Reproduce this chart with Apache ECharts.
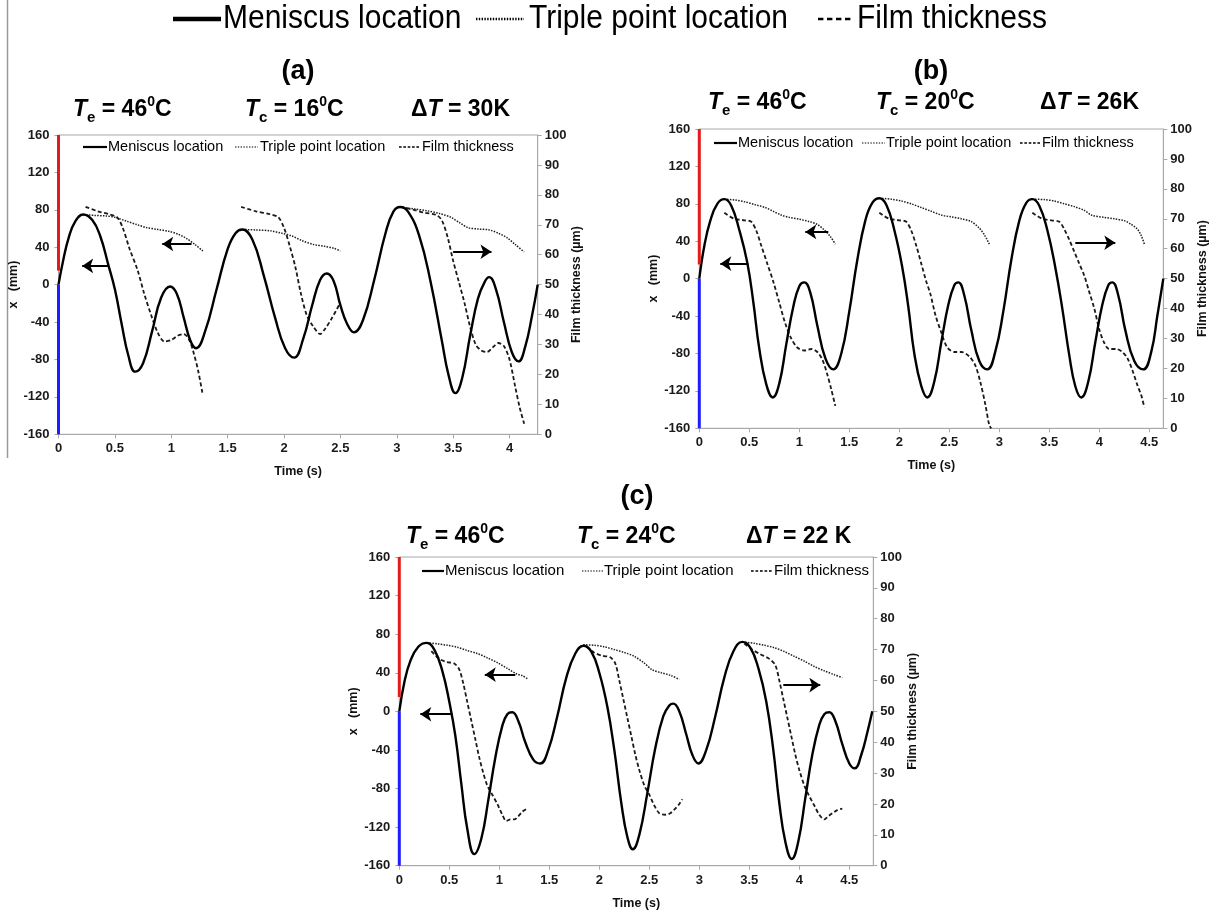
<!DOCTYPE html>
<html><head><meta charset="utf-8">
<script src="https://cdn.jsdelivr.net/npm/echarts@6/dist/echarts.min.js"></script>
<style>html,body{margin:0;padding:0;background:#fff}#c{width:1227px;height:913px}</style>
</head><body><div id="c"></div>
<script>
const FONT = '"Liberation Sans", Arial, sans-serif';

// ---------- DATA ----------
const panelLabels = ['(a)', '(b)', '(c)'];
const Te = ['46', '46', '46'];
const Tc = ['16', '20', '24'];
const dT = ['30K', '26K', '22 K'];
const timeMax = [4.25, 4.64, 4.74];
const xTicks = [0, 0.5, 1, 1.5, 2, 2.5, 3, 3.5, 4, 4.5];
const leftTicks = [-160, -120, -80, -40, 0, 40, 80, 120, 160];
const rightTicks = [0, 10, 20, 30, 40, 50, 60, 70, 80, 90, 100];
const redBar = [160, 15];
const blueBar = [0, -160];
const legendNames = ['Meniscus location', 'Triple point location', 'Film thickness'];

// Panel (a) — meniscus [time s, x mm]
const menA = [[0,0],[0.04,25],[0.09,50],[0.15,68],[0.22,75],[0.30,69],[0.37,52],[0.44,22],[0.50,-5],[0.56,-42],[0.62,-76],[0.68,-93],[0.75,-84],[0.83,-50],[0.91,-14],[0.99,-2],[1.05,-10],[1.11,-35],[1.17,-60],[1.22,-68],[1.30,-50],[1.40,-6],[1.50,38],[1.57,55],[1.63,59],[1.72,48],[1.82,10],[1.92,-35],[2.01,-68],[2.09,-78],[2.17,-58],[2.25,-22],[2.32,5],[2.38,12],[2.44,4],[2.50,-22],[2.56,-42],[2.62,-51],[2.70,-38],[2.80,5],[2.90,55],[2.97,78],[3.03,83],[3.10,78],[3.20,52],[3.30,3],[3.40,-60],[3.46,-97],[3.52,-116],[3.58,-100],[3.65,-55],[3.72,-15],[3.78,3],[3.82,8],[3.88,-5],[3.95,-40],[4.02,-72],[4.08,-82],[4.14,-66],[4.20,-33],[4.25,0]];
// triple point [time, mm]
const triA1 = [[0.22,75],[0.32,74],[0.42,73.5],[0.50,72],[0.60,68],[0.70,64],[0.78,61],[0.88,59],[0.98,57],[1.06,54],[1.14,49],[1.21,43],[1.28,36]];
const triA2 = [[1.63,59],[1.75,58.5],[1.88,57.5],[1.98,55],[2.07,52],[2.16,47],[2.26,43],[2.36,41],[2.44,39],[2.50,36]];
const triA3 = [[3.03,83],[3.15,81],[3.27,79],[3.38,76],[3.48,72],[3.56,66],[3.63,61],[3.72,59.5],[3.82,58.5],[3.90,55],[3.98,50],[4.05,43],[4.13,35]];
// film thickness [time, µm]
const filmA1 = [[0.24,76],[0.35,74.5],[0.45,73.5],[0.52,72.5],[0.57,69],[0.63,62],[0.70,55],[0.76,47],[0.82,40],[0.88,34],[0.94,31],[1.00,31.5],[1.06,33],[1.11,33.5],[1.16,31.5],[1.20,27],[1.24,21],[1.28,13]];
const filmA2 = [[1.62,76],[1.75,74.5],[1.88,73.5],[1.95,72.5],[2.00,69],[2.05,63],[2.10,56],[2.15,47],[2.20,40],[2.26,36],[2.32,33.5],[2.36,35],[2.42,38.5],[2.50,44]];
const filmA3 = [[3.03,76],[3.15,75],[3.25,74],[3.35,73.3],[3.40,71.5],[3.45,66],[3.50,58],[3.55,51],[3.60,44],[3.65,36],[3.70,30],[3.75,28],[3.80,27.5],[3.85,29],[3.90,30.5],[3.95,29.5],[4.00,25],[4.05,16],[4.09,9],[4.13,3.5]];

// Panel (b)
const menB = [[0,0],[0.05,35],[0.11,62],[0.18,80],[0.25,85],[0.32,78],[0.40,52],[0.48,17],[0.54,-25],[0.60,-75],[0.67,-113],[0.735,-127],[0.80,-112],[0.87,-70],[0.94,-30],[1.00,-8],[1.05,-4],[1.11,-15],[1.18,-50],[1.26,-85],[1.34,-97],[1.42,-80],[1.50,-35],[1.58,20],[1.66,62],[1.73,81],[1.80,86],[1.87,79],[1.95,52],[2.03,12],[2.09,-30],[2.15,-80],[2.22,-115],[2.28,-127],[2.35,-110],[2.42,-68],[2.49,-28],[2.55,-7],[2.59,-4],[2.65,-18],[2.72,-55],[2.80,-88],[2.88,-97],[2.96,-78],[3.04,-35],[3.12,20],[3.20,62],[3.27,81],[3.33,85],[3.40,78],[3.48,52],[3.56,12],[3.63,-32],[3.70,-82],[3.76,-115],[3.82,-127],[3.89,-110],[3.96,-68],[4.03,-28],[4.09,-7],[4.13,-4],[4.19,-18],[4.26,-55],[4.35,-88],[4.44,-97],[4.52,-78],[4.58,-40],[4.64,0]];
const triB1 = [[0.25,85],[0.36,84],[0.46,82],[0.56,79],[0.66,76],[0.74,72],[0.82,68],[0.90,65.5],[1.00,63.5],[1.10,61],[1.18,58],[1.25,52],[1.31,45],[1.36,37]];
const triB2 = [[1.80,86],[1.92,85],[2.02,83],[2.12,80],[2.22,76],[2.32,72],[2.42,68],[2.52,66],[2.62,64],[2.72,61],[2.80,54],[2.85,47],[2.90,37]];
const triB3 = [[3.33,85],[3.45,84.5],[3.55,83],[3.65,80],[3.75,77],[3.85,73],[3.92,68],[4.05,65.5],[4.15,64],[4.25,62],[4.32,58],[4.38,53],[4.42,46],[4.45,37]];
const filmB1 = [[0.25,72],[0.35,70],[0.45,69.5],[0.52,69],[0.57,66],[0.62,61],[0.68,55],[0.74,49],[0.80,42],[0.86,35],[0.92,30],[0.98,27],[1.05,26],[1.12,26.5],[1.18,25.5],[1.23,23],[1.28,18],[1.32,13],[1.36,7.5]];
const filmB2 = [[1.80,72],[1.90,70],[2.00,69.5],[2.07,69],[2.12,66],[2.17,61],[2.22,55],[2.27,49],[2.31,45],[2.36,38],[2.42,32],[2.48,27],[2.55,25.5],[2.62,25.5],[2.70,24],[2.76,21],[2.81,15.5],[2.86,8],[2.90,1],[2.92,0]];
const filmB3 = [[3.33,72],[3.43,70],[3.52,69.5],[3.60,69],[3.65,66.5],[3.70,63],[3.75,59],[3.80,55],[3.85,51],[3.90,45.5],[3.95,40],[4.00,33],[4.05,28.5],[4.10,26.5],[4.17,26.5],[4.23,25.5],[4.28,23.5],[4.33,19.5],[4.38,14.5],[4.42,11],[4.45,7]];

// Panel (c)
const menC = [[0,0],[0.05,30],[0.11,52],[0.19,67],[0.275,71],[0.35,64],[0.43,42],[0.50,10],[0.56,-25],[0.62,-75],[0.68,-122],[0.75,-148],[0.82,-132],[0.89,-92],[0.96,-48],[1.03,-15],[1.08,-3],[1.13,-1],[1.19,-10],[1.26,-32],[1.34,-50],[1.41,-54],[1.49,-40],[1.58,-5],[1.67,35],[1.76,60],[1.84,68],[1.92,62],[2.00,40],[2.08,5],[2.15,-40],[2.22,-95],[2.28,-130],[2.335,-143],[2.40,-128],[2.48,-85],[2.56,-38],[2.64,-5],[2.70,6],[2.74,8],[2.80,0],[2.87,-24],[2.93,-45],[2.99,-54],[3.07,-40],[3.16,-5],[3.25,35],[3.34,62],[3.43,72],[3.51,66],[3.59,45],[3.67,10],[3.74,-40],[3.80,-95],[3.86,-135],[3.925,-153],[3.99,-135],[4.06,-90],[4.13,-45],[4.20,-14],[4.25,-3],[4.30,-1],[4.36,-10],[4.43,-34],[4.50,-54],[4.555,-59],[4.62,-45],[4.68,-22],[4.73,0]];
const triC1 = [[0.275,71],[0.38,70],[0.48,68.5],[0.58,66.5],[0.68,63],[0.78,60],[0.88,55.5],[0.98,50.5],[1.08,44.5],[1.17,39],[1.23,37],[1.28,34]];
const triC2 = [[1.84,69],[1.95,68.5],[2.05,67],[2.15,64],[2.25,61],[2.35,57],[2.45,50],[2.53,43],[2.62,40],[2.72,37],[2.80,33]];
const triC3 = [[3.43,72],[3.55,70.5],[3.65,68.5],[3.75,66],[3.85,62],[3.95,57],[4.05,52],[4.15,46.5],[4.25,42],[4.35,38],[4.43,35]];
const filmC1 = [[0.32,69.5],[0.40,67],[0.47,66],[0.55,65.5],[0.60,63.5],[0.64,59],[0.68,53],[0.72,47],[0.76,41],[0.80,35],[0.84,30],[0.88,26],[0.93,23],[0.98,20],[1.03,16.5],[1.07,14.5],[1.11,15],[1.15,15],[1.19,16],[1.23,17.5],[1.28,18.5]];
const filmC2 = [[1.87,71],[1.95,69],[2.03,68],[2.11,67.5],[2.16,65.5],[2.20,60],[2.24,54],[2.28,48],[2.32,42],[2.36,36],[2.40,31],[2.45,26],[2.50,23],[2.55,19.5],[2.60,17],[2.66,16.5],[2.71,17],[2.76,18.5],[2.80,20],[2.83,21.5]];
const filmC3 = [[3.45,72],[3.53,70],[3.61,68.5],[3.70,67],[3.76,65],[3.80,60],[3.84,54],[3.88,48],[3.92,42],[3.96,36],[4.00,31],[4.05,26],[4.10,22.5],[4.15,19.5],[4.20,16.5],[4.25,15],[4.29,16],[4.33,17],[4.38,18],[4.43,18.5]];

// arrows: [tail, head] in [time, value]; left arrows on mm axis, right arrow on µm axis
const arrowsLeftA = [[[0.44,20],[0.21,20]], [[1.18,43.5],[0.92,43.5]]];
const arrowsRightA = [[[3.50,61],[3.84,61]]];
const arrowsLeftB = [[[0.49,16],[0.21,16]], [[1.29,50],[1.06,50]]];
const arrowsRightB = [[[3.76,62],[4.16,62]]];
const arrowsLeftC = [[[0.53,-3],[0.21,-3]], [[1.16,38],[0.855,38]]];
const arrowsRightC = [[[3.84,58.5],[4.21,58.5]]];

// ---------- BUILD ----------
const panels = [
  {men: menA, tri: [triA1, triA2, triA3], film: [filmA1, filmA2, filmA3], aL: arrowsLeftA, aR: arrowsRightA},
  {men: menB, tri: [triB1, triB2, triB3], film: [filmB1, filmB2, filmB3], aL: arrowsLeftB, aR: arrowsRightB},
  {men: menC, tri: [triC1, triC2, triC3], film: [filmC1, filmC2, filmC3], aL: arrowsLeftC, aR: arrowsRightC}
];
const gridPos = [
  {left: 58.5, top: 135, width: 479.2, height: 299.3},
  {left: 699.3, top: 129, width: 464, height: 299.3},
  {left: 399.3, top: 557, width: 474, height: 308.7}
];
const rightNameGap = [29, 33, 27];
const GRAY = '#a8a8a8';
const LBL = {color: '#1a1a1a', fontWeight: 'bold', fontSize: 13, fontFamily: FONT};
const NAME = {color: '#111', fontWeight: 'bold', fontSize: 12.5, fontFamily: FONT};

const grid = [], xAxis = [], yAxis = [], series = [];
panels.forEach((p, i) => {
  grid.push(Object.assign({show: true, borderColor: GRAY, borderWidth: 1, backgroundColor: 'transparent'}, gridPos[i]));
  xAxis.push({
    gridIndex: i, type: 'value', min: 0, max: timeMax[i], interval: 0.5,
    axisLine: {show: true, onZero: false, lineStyle: {color: GRAY, width: 1}},
    axisTick: {show: true, length: 4, lineStyle: {color: GRAY}},
    splitLine: {show: false},
    axisLabel: Object.assign({}, LBL, {margin: 8, showMaxLabel: false,
      formatter: v => xTicks.some(t => Math.abs(t - v) < 1e-9) ? String(v) : ''}),
    name: 'Time (s)', nameLocation: 'middle', nameGap: 31, nameTextStyle: NAME
  });
  yAxis.push({
    gridIndex: i, type: 'value', position: 'left', min: leftTicks[0], max: leftTicks[leftTicks.length-1], interval: 40,
    axisLine: {show: false, onZero: false}, axisTick: {show: true, length: 4, lineStyle: {color: GRAY}},
    splitLine: {show: false}, axisLabel: Object.assign({}, LBL, {margin: 9}),
    name: 'x   (mm)', nameLocation: 'middle', nameRotate: 90, nameGap: 38, nameTextStyle: NAME
  });
  yAxis.push({
    gridIndex: i, type: 'value', position: 'right', min: rightTicks[0], max: rightTicks[rightTicks.length-1], interval: 10,
    axisLine: {show: true, onZero: false, lineStyle: {color: GRAY}}, axisTick: {show: true, length: 4, lineStyle: {color: GRAY}},
    splitLine: {show: false}, axisLabel: Object.assign({}, LBL, {margin: 7}),
    name: 'Film thickness (µm)', nameLocation: 'middle', nameRotate: 90, nameGap: rightNameGap[i], nameTextStyle: NAME
  });
  const yl = i * 2, yr = i * 2 + 1;
  series.push({type: 'line', xAxisIndex: i, yAxisIndex: yl, data: redBar.map(v => [0, v]), showSymbol: false, clip: false, silent: true,
    lineStyle: {color: '#e31b1b', width: 3}, z: 5});
  series.push({type: 'line', xAxisIndex: i, yAxisIndex: yl, data: blueBar.map(v => [0, v]), showSymbol: false, clip: false, silent: true,
    lineStyle: {color: '#1d1dff', width: 3}, z: 5});
  series.push({name: legendNames[0], type: 'line', xAxisIndex: i, yAxisIndex: yl, data: p.men, showSymbol: false, smooth: 0.45,
    lineStyle: {color: '#000', width: 2.4}, z: 4});
  p.tri.forEach(seg => series.push({name: legendNames[1], type: 'line', xAxisIndex: i, yAxisIndex: yl, data: seg, showSymbol: false, smooth: 0.3,
    lineStyle: {color: '#1e1e1e', width: 1.5, type: [1.5, 1.3]}, z: 3}));
  p.film.forEach(seg => series.push({name: legendNames[2], type: 'line', xAxisIndex: i, yAxisIndex: yr, data: seg, showSymbol: false, smooth: 0.3,
    lineStyle: {color: '#1a1a1a', width: 1.8, type: [4, 2.5]}, z: 3}));
  series.push({type: 'lines', coordinateSystem: 'cartesian2d', xAxisIndex: i, yAxisIndex: yl, symbol: ['none', 'arrow'], symbolSize: [9, 11],
    lineStyle: {color: '#000', width: 2.2, opacity: 1, curveness: 0}, data: p.aL.map(c => ({coords: c})), z: 6, silent: true});
  series.push({type: 'lines', coordinateSystem: 'cartesian2d', xAxisIndex: i, yAxisIndex: yr, symbol: ['none', 'arrow'], symbolSize: [9, 11],
    lineStyle: {color: '#000', width: 2.2, opacity: 1, curveness: 0}, data: p.aR.map(c => ({coords: c})), z: 6, silent: true});
});

// ---------- graphic (titles, legends) ----------
const graphic = [];
graphic.push({type: 'line', shape: {x1: 7.5, y1: 0, x2: 7.5, y2: 458}, style: {stroke: '#9a9a9a', lineWidth: 1.5}});

function legendGroup(y, fs, items, lw, sy) {
  const styles = [{lineDash: null, w: lw}, {lineDash: [1.4, 1.4], w: lw * 0.55}, {lineDash: [fs*0.18, fs*0.12], w: lw * 0.6}];
  items.forEach((it, k) => {
    graphic.push({type: 'line', shape: {x1: it[0], y1: y, x2: it[1], y2: y},
      style: {stroke: '#000', lineWidth: styles[k].w, lineDash: styles[k].lineDash}});
    graphic.push({type: 'text', x: it[2], y: y, scaleY: sy || 1, style: {text: legendNames[k], font: `${fs}px ${FONT}`, fill: '#000', textVerticalAlign: 'middle', textAlign: 'left'}});
  });
}
legendGroup(19, 30, [[173, 221, 223], [476, 524, 529], [818, 854, 857]], 4.5, 1.12);
legendGroup(147, 14.5, [[83, 107, 108], [235, 258, 260], [399, 420, 422]], 2.2);
legendGroup(143, 14.5, [[714, 737, 738], [862, 885, 886], [1020, 1040, 1042]], 2.2);
legendGroup(571, 15, [[422, 444, 445], [582, 603, 604], [751, 773, 774]], 2.2);

const titlePos = [[298, 72], [931, 72], [637, 497]];
const subPos = [[[73, 110], [245, 110], [411, 110]], [[708, 103], [876, 103], [1040, 103]], [[406, 537], [577, 537], [746, 537]]];
const rich = {
  n: {fontFamily: FONT, fontWeight: 'bold', fontSize: 23, lineHeight: 30, verticalAlign: 'middle', fill: '#000'},
  i: {fontFamily: FONT, fontWeight: 'bold', fontStyle: 'italic', fontSize: 23, lineHeight: 30, verticalAlign: 'middle', fill: '#000'},
  sub: {fontFamily: FONT, fontWeight: 'bold', fontSize: 15, lineHeight: 10, verticalAlign: 'bottom', fill: '#000'},
  sup: {fontFamily: FONT, fontWeight: 'bold', fontSize: 14, lineHeight: 14, verticalAlign: 'top', fill: '#000'}
};
panelLabels.forEach((lab, i) => {
  graphic.push({type: 'text', x: titlePos[i][0], y: titlePos[i][1],
    style: {text: lab, font: `bold 27px ${FONT}`, fill: '#000', textAlign: 'center', textVerticalAlign: 'middle'}});
  const texts = [
    `{i|T}{sub|e}{n| = ${Te[i]}}{sup|0}{n|C}`,
    `{i|T}{sub|c}{n| = ${Tc[i]}}{sup|0}{n|C}`,
    `{n|Δ}{i|T}{n| = ${dT[i]}}`
  ];
  texts.forEach((t, k) => {
    graphic.push({type: 'text', x: subPos[i][k][0], y: subPos[i][k][1] - 15,
      style: {text: t, rich: rich, textAlign: 'left', textVerticalAlign: 'top'}});
  });
});

const chart = echarts.init(document.getElementById('c'));
chart.setOption({
  animation: false,
  backgroundColor: '#fff',
  grid, xAxis, yAxis, series, graphic
});
</script></body></html>
